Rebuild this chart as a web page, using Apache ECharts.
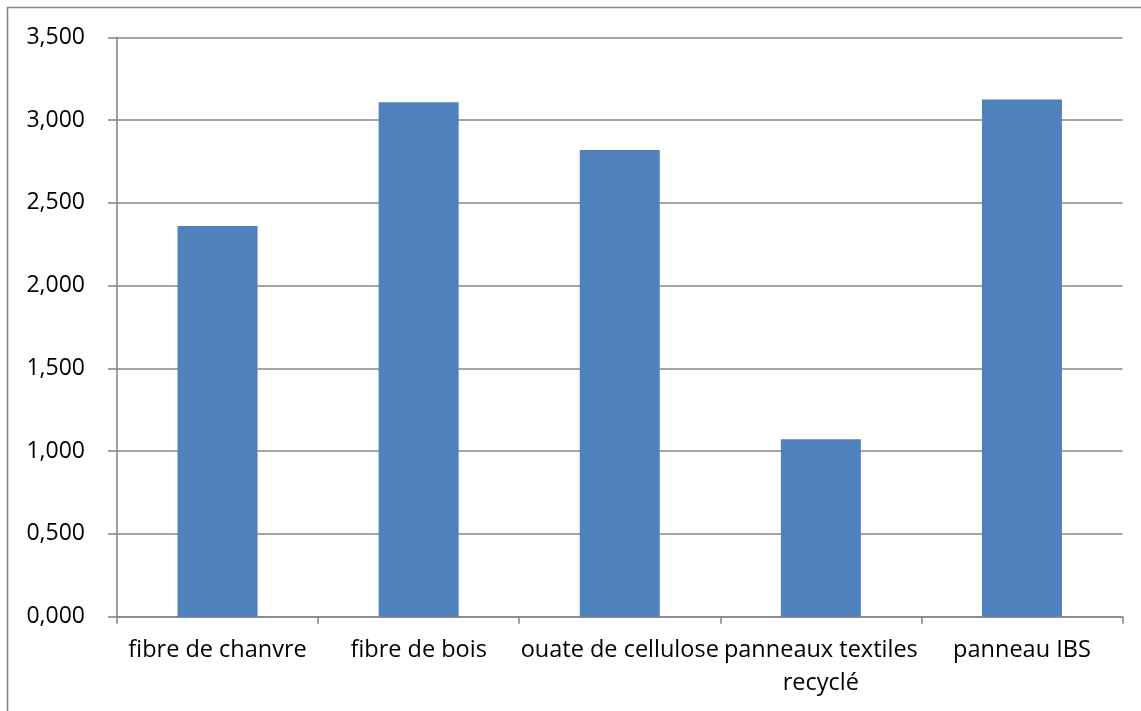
<!DOCTYPE html>
<html>
<head>
<meta charset="utf-8">
<script src="https://cdn.jsdelivr.net/npm/echarts@6/dist/echarts.min.js"></script>
<style>
  html, body { margin: 0; padding: 0; background: #ffffff; }
  #chart { width: 1141px; height: 711px; }
</style>
</head>
<body>
<div id="chart"></div>
<script>
// Insulation materials and their values
const categories = [
  'fibre de chanvre',
  'fibre de bois',
  'ouate de cellulose',
  'panneaux textiles\nrecyclé',
  'panneau IBS'
];
const values = [2.360, 3.107, 2.819, 1.072, 3.125];

// Value axis range (French decimal comma on the labels)
const yMin = 0;
const yMax = 3.5;
const yStep = 0.5;

const axisGray = '#878787';
const textFont = 'Open Sans';

const chart = echarts.init(document.getElementById('chart'), null, { renderer: 'canvas' });

chart.setOption({
  animation: false,
  backgroundColor: '#ffffff',
  grid: {
    left: 117,
    right: 18.5,
    top: 37.3,
    bottom: 94.3,
    containLabel: false
  },
  graphic: [
    {
      type: 'polyline',
      silent: true,
      shape: { points: [[7.5, 711], [7.5, 7.5], [1141, 7.5]] },
      style: { stroke: axisGray, lineWidth: 1.6, fill: null }
    }
  ],
  xAxis: {
    type: 'category',
    data: categories,
    boundaryGap: true,
    axisLine: { show: true, lineStyle: { color: axisGray, width: 1.6 } },
    axisTick: {
      show: true,
      alignWithLabel: false,
      length: 7,
      lineStyle: { color: axisGray, width: 1.6 }
    },
    axisLabel: {
      interval: 0,
      margin: 17,
      color: '#000000',
      fontFamily: textFont,
      fontSize: 23.5,
      lineHeight: 33,
      align: 'center'
    }
  },
  yAxis: {
    type: 'value',
    min: yMin,
    max: yMax,
    interval: yStep,
    axisLine: { show: true, lineStyle: { color: axisGray, width: 1.6 } },
    axisTick: {
      show: true,
      length: 9,
      lineStyle: { color: axisGray, width: 1.6 }
    },
    splitLine: { show: true, lineStyle: { color: axisGray, width: 1.6 } },
    axisLabel: {
      margin: 32,
      color: '#000000',
      fontFamily: textFont,
      fontSize: 23,
      formatter: v => v.toFixed(3).replace('.', ',')
    }
  },
  series: [
    {
      type: 'bar',
      data: values,
      barWidth: 80,
      itemStyle: { color: '#4F81BD' }
    }
  ]
});
</script>
</body>
</html>
